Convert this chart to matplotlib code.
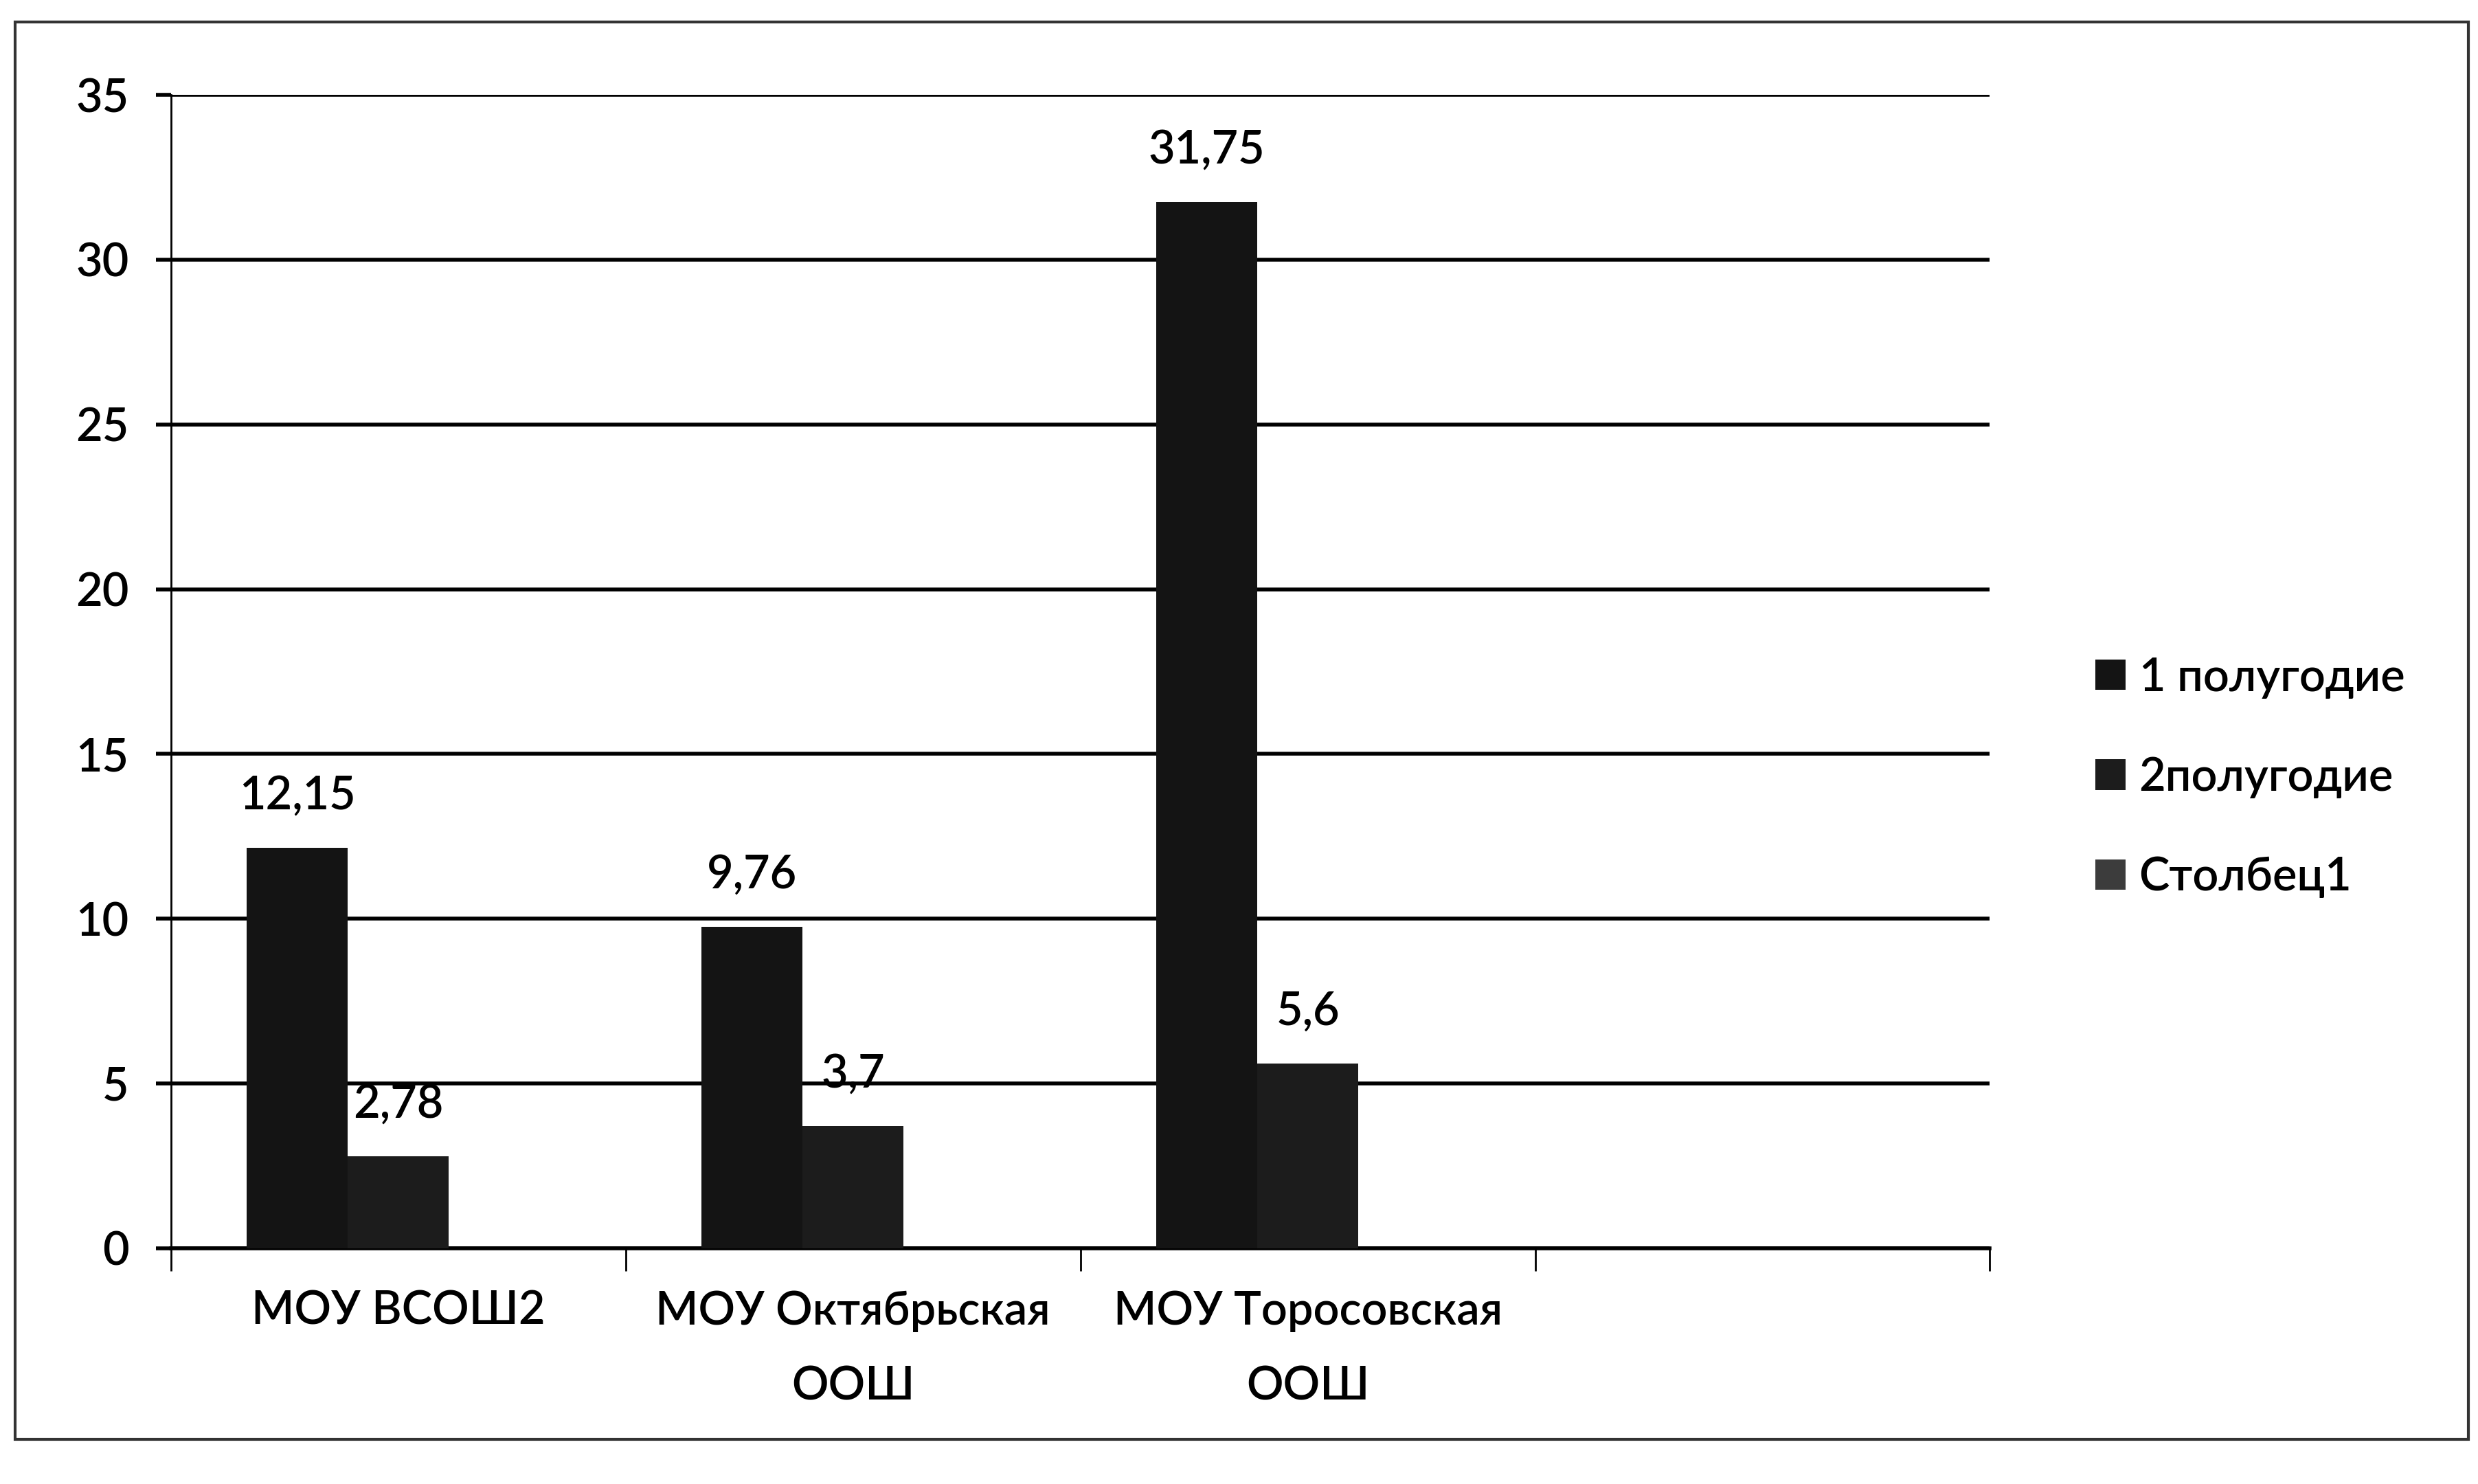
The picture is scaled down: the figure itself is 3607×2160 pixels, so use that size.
import matplotlib
matplotlib.use("Agg")
import matplotlib.pyplot as plt
from matplotlib.patches import Rectangle
import numpy as np

categories = ["МОУ ВСОШ2", "МОУ Октябрьская\nООШ", "МОУ Торосовская\nООШ", ""]
series_names = ["1 полугодие", "2полугодие", "Столбец1"]
half1 = [12.15, 9.76, 31.75, np.nan]
half2 = [2.78, 3.7, 5.6, np.nan]
col1 = [np.nan, np.nan, np.nan, np.nan]
y_ticks = [0, 5, 10, 15, 20, 25, 30, 35]

colors = ["#141414", "#1c1c1c", "#3c3c3c"]

plt.rcParams['font.family'] = ['Lato', 'DejaVu Sans']
plt.rcParams['font.weight'] = 'semibold'

fig = plt.figure(figsize=(18.035, 10.8), dpi=200)
ax = fig.add_axes([0.069, 0.159, 0.734, 0.777])

x = np.arange(len(categories))
w = 1 / 4.5
series = [half1, half2, col1]
for i, (vals, name, c) in enumerate(zip(series, series_names, colors)):
    offs = (i - 1) * w
    bars = ax.bar(x + offs, vals, width=w, color=c, label=name, zorder=3)
    labels = [("" if np.isnan(v) else f"{v:g}".replace(".", ",")) for v in vals]
    ax.bar_label(bars, labels=labels, padding=16, fontsize=24, color="black",
                 fontweight="semibold")

ax.set_xlim(-0.5, len(categories) - 0.5)
ax.set_ylim(0, 35)
ax.set_yticks(y_ticks)
ax.set_yticklabels([str(t) for t in y_ticks], fontsize=24, fontweight="semibold")
ax.yaxis.grid(True, color="black", linewidth=2.0, zorder=1)
ax.set_axisbelow(True)

ax.set_xticks(x)
ax.set_xticklabels(categories, fontsize=24, linespacing=1.95, fontweight="semibold")
ax.set_xticks(np.arange(-0.5, len(categories)), minor=True)
ax.tick_params(axis="x", which="major", length=0, pad=22)
ax.tick_params(axis="x", which="minor", length=12, width=1.0, color="black", direction="out")
ax.tick_params(axis="y", length=8, width=2.0, color="black", pad=14)

for s in ["top", "right"]:
    ax.spines[s].set_visible(False)
ax.spines["left"].set_linewidth(1.0)
ax.spines["bottom"].set_linewidth(2.0)

leg = fig.legend(loc="center left", bbox_to_anchor=(0.829, 0.476), frameon=False,
                 prop={"size": 24, "weight": "semibold"},
                 handlelength=0.65, handleheight=0.65, handletextpad=0.3,
                 labelspacing=1.25)

fig.patches.append(Rectangle((0.006, 0.03), 0.99, 0.955, transform=fig.transFigure,
                             fill=False, edgecolor="#333333", linewidth=1.5))

fig.savefig("out.png", dpi=200)
